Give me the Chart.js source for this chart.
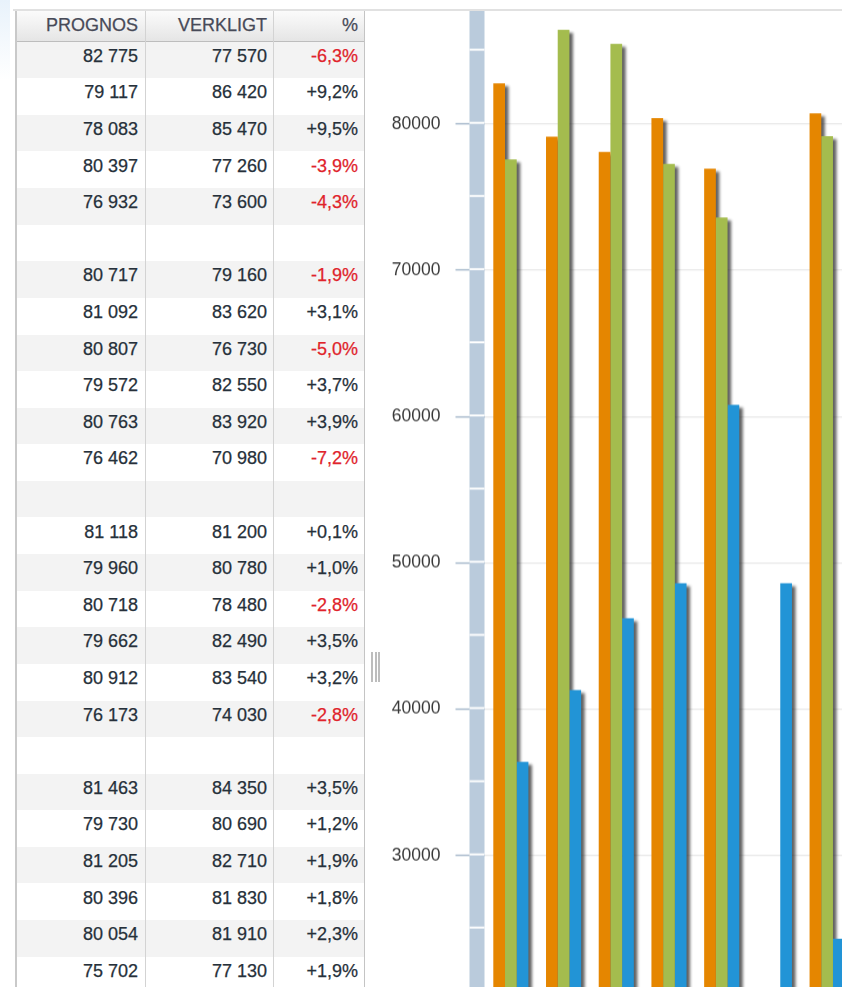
<!DOCTYPE html>
<html lang="sv">
<head>
<meta charset="utf-8">
<title>Prognos mot verkligt</title>
<script src="https://cdn.jsdelivr.net/npm/chart.js@4.4.1/dist/chart.umd.min.js"></script>
<style>
  html, body { margin: 0; padding: 0; background: #fff; overflow: hidden; width: 842px; height: 987px; }
  body { position: relative; font-family: "Liberation Sans", Arial, Helvetica, sans-serif; }

  #glans { position: absolute; left: 0; top: 0; width: 10px; height: 80px;
           background: linear-gradient(#e8f2fb, rgba(232, 242, 251, 0)); }
  #topplinje { position: absolute; left: 13px; top: 9px; width: 829px; height: 2px; background: #e1e1e1; }

  #tabell { position: absolute; left: 15px; top: 11px; width: 349px; height: 976px;
            border-left: 2px solid #c9c9c9; }
  .huvud { position: absolute; left: 0; top: 0; width: 347px; height: 30px;
           background: linear-gradient(#fbfbfb, #e5e5e5); border-bottom: 1px solid #bdbdbd; }
  .rad { position: absolute; left: 0; width: 347px; height: 36.6px; }
  .rad.udda { background: #f3f3f3; }
  .cell { position: absolute; top: 0; height: 100%; box-sizing: border-box;
          text-align: right; font-size: 18px; white-space: nowrap; -webkit-text-stroke: 0.25px; }
  .huvud .cell { line-height: 29px; color: #474a58; }
  .rad .cell { line-height: 28px; color: #26303a; }
  .k1 { left: 0; width: 128px; padding-right: 7px; }
  .k2 { left: 128px; width: 128px; padding-right: 6px; }
  .k3 { left: 256px; width: 91px; padding-right: 6px; }
  .rad .minus { color: #e0232b; }
  .delare { position: absolute; top: 0; width: 1px; height: 976px; background: #d3d3d3; }

  #handtag { position: absolute; left: 371px; top: 652px; width: 10px; height: 30px; }
  #handtag span { position: absolute; top: 0; width: 2px; height: 30px; background: #bdbdbd; }

  #diagram { position: absolute; left: 367px; top: 11px; width: 475px; height: 976px; overflow: hidden; }
  #stapelbox { position: absolute; left: 0; top: 0; width: 1488px; height: 1337px; }
</style>
</head>
<body>
<div id="glans"></div>
<div id="topplinje"></div>
<div id="tabell"></div>
<div id="handtag"><span style="left:0"></span><span style="left:3.5px"></span><span style="left:7px"></span></div>
<div id="diagram"><div id="stapelbox"><canvas id="stapel"></canvas></div></div>

<script>
// en rad per period, tomma rader skiljer grupperna åt
var kategorier = ['1', '2', '3', '4', '5', '6', '7', '8', '9', '10', '11', '12', '13',
                  '14', '15', '16', '17', '18', '19', '20', '21', '22', '23', '24', '25', '26'];
var prognos = [82775, 79117, 78083, 80397, 76932, null, 80717, 81092, 80807, 79572, 80763, 76462, null,
               81118, 79960, 80718, 79662, 80912, 76173, null, 81463, 79730, 81205, 80396, 80054, 75702];
var verkligt = [77570, 86420, 85470, 77260, 73600, null, 79160, 83620, 76730, 82550, 83920, 70980, null,
                81200, 80780, 78480, 82490, 83540, 74030, null, 84350, 80690, 82710, 81830, 81910, 77130];
var andel = ['-6,3%', '+9,2%', '+9,5%', '-3,9%', '-4,3%', '', '-1,9%', '+3,1%', '-5,0%', '+3,7%', '+3,9%', '-7,2%', '',
             '+0,1%', '+1,0%', '-2,8%', '+3,5%', '+3,2%', '-2,8%', '', '+3,5%', '+1,2%', '+1,9%', '+1,8%', '+2,3%', '+1,9%'];
// tredje serien (blå), bara de första grupperna syns
var jamforelse = [36400, 41300, 46200, 48600, 60800, 48600, 24300, null, null, null, null, null, null,
                  null, null, null, null, null, null, null, null, null, null, null, null, null];
var rubriker = ['PROGNOS', 'VERKLIGT', '%'];
var yMin = 0, yMax = 90000, ySteg = 10000;

function tusental(n) {
    if (n == null) return '';
    return String(n).replace(/\B(?=(\d{3})+(?!\d))/g, ' ');
}

// tabellen
var tabell = document.getElementById('tabell');
var html = '<div class="huvud">' +
    '<div class="cell k1">' + rubriker[0] + '</div>' +
    '<div class="cell k2">' + rubriker[1] + '</div>' +
    '<div class="cell k3">' + rubriker[2] + '</div></div>';
for (var i = 0; i < prognos.length; i++) {
    var radTopp = 30.7 + 36.6 * i;
    var klass = (i % 2 === 0) ? 'rad udda' : 'rad';
    var minus = andel[i].charAt(0) === '-' ? ' minus' : '';
    html += '<div class="' + klass + '" style="top:' + radTopp + 'px">' +
        '<div class="cell k1">' + tusental(prognos[i]) + '</div>' +
        '<div class="cell k2">' + tusental(verkligt[i]) + '</div>' +
        '<div class="cell k3' + minus + '">' + andel[i] + '</div></div>';
}
html += '<div class="delare" style="left:128px"></div>';
html += '<div class="delare" style="left:256px"></div>';
html += '<div class="delare" style="left:347px;background:#c4c4c4"></div>';
tabell.innerHTML = html;

// blått axelband med vita streck, samt skuggor bakom staplarna
var axelband = {
    id: 'axelband',
    beforeDatasetsDraw: function(chart) {
        var ctx = chart.ctx, area = chart.chartArea, y = chart.scales.y;
        ctx.save();
        ctx.fillStyle = '#bacbdc';
        ctx.fillRect(area.left - 15, 0, 15, chart.height);
        ctx.strokeStyle = '#ffffff';
        ctx.lineWidth = 2;
        for (var v = yMin; v <= yMax; v += ySteg / 2) {
            var py = y.getPixelForValue(v) - 1;
            ctx.beginPath();
            ctx.moveTo(area.left - 15, py);
            ctx.lineTo(area.left, py);
            ctx.stroke();
        }
        ctx.restore();

        ctx.save();
        ctx.beginPath();
        ctx.rect(area.left, area.top, area.right - area.left, area.bottom - area.top);
        ctx.clip();
        ctx.filter = 'blur(1.6px)';
        ctx.fillStyle = 'rgba(30, 30, 30, 0.7)';
        chart.getSortedVisibleDatasetMetas().forEach(function(meta) {
            var data = chart.data.datasets[meta.index].data;
            meta.data.forEach(function(bar, j) {
                if (data[j] == null) return;
                var p = bar.getProps(['x', 'y', 'base', 'width'], true);
                ctx.fillRect(p.x - p.width / 2 + 3.5, p.y + 3, p.width, p.base - p.y);
            });
        });
        ctx.restore();
    }
};

var chart = new Chart(document.getElementById('stapel'), {
    type: 'bar',
    data: {
        labels: kategorier,
        datasets: [
            { label: 'Prognos', data: prognos, backgroundColor: '#e58600' },
            { label: 'Verkligt', data: verkligt, backgroundColor: '#a4bc4e' },
            { label: 'Jämförelse', data: jamforelse, backgroundColor: '#2294d6' }
        ]
    },
    options: {
        responsive: true,
        maintainAspectRatio: false,
        animation: false,
        layout: { padding: 0 },
        datasets: { bar: { categoryPercentage: 0.666, barPercentage: 1, borderWidth: 0 } },
        plugins: { legend: { display: false }, tooltip: { enabled: false } },
        scales: {
            x: { display: false, offset: true },
            y: {
                min: yMin,
                max: yMax,
                ticks: {
                    stepSize: ySteg,
                    padding: 15,
                    color: '#383838',
                    font: { family: 'Liberation Sans', size: 17.5 },
                    callback: function(v) { return String(v); }
                },
                grid: { color: '#e7e7e7', lineWidth: 1.2, tickLength: 29, tickColor: '#a6b8cb', tickWidth: 1.5 },
                border: { display: false },
                afterFit: function(scale) { scale.width = 117.5; }
            }
        }
    },
    plugins: [axelband]
});

// 10 000 enheter ska motsvara 146,2 px, och 80000 ska hamna på rätt höjd
var box = document.getElementById('stapelbox');
var extra = chart.height - (chart.chartArea.bottom - chart.chartArea.top);
box.style.height = (146.2 * (yMax - yMin) / ySteg + extra) + 'px';
chart.resize();
box.style.top = (124 - 11 - chart.scales.y.getPixelForValue(80000)) + 'px';
</script>
</body>
</html>
